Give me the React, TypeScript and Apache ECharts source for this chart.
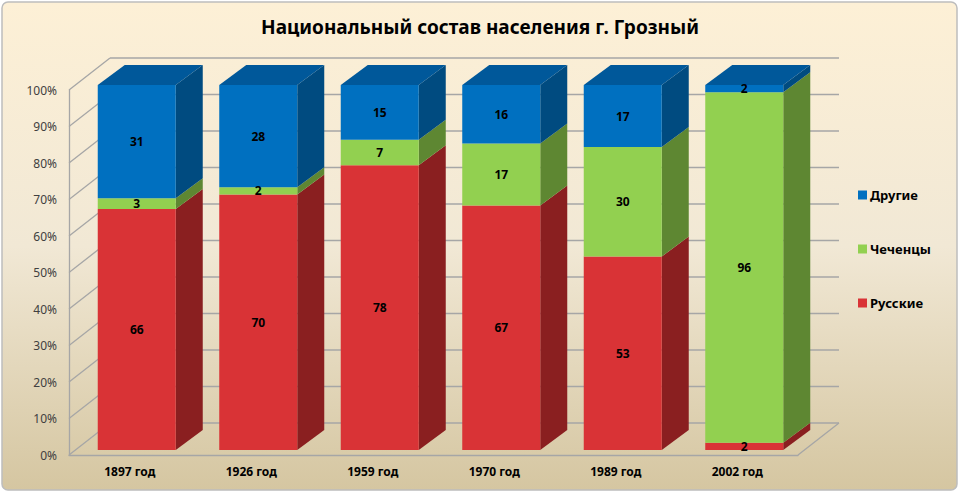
import React, { useEffect, useRef } from "react";
import * as echarts from "echarts";

const categories = ["1897 год", "1926 год", "1959 год", "1970 год", "1989 год", "2002 год"];
const russians = [66, 70, 78, 67, 53, 2];
const chechens = [3, 2, 7, 17, 30, 96];
const others = [31, 28, 15, 16, 17, 2];
const yTicks = [0, 10, 20, 30, 40, 50, 60, 70, 80, 90, 100];
const title = "Национальный состав населения г. Грозный";

const layers = [
  { name: "Русские", values: russians, front: "#D93336", side: "#8A1F20", top: "#A82728" },
  { name: "Чеченцы", values: chechens, front: "#92D050", side: "#5E8732", top: "#76A83E" },
  { name: "Другие", values: others, front: "#0070C0", side: "#004B80", top: "#00589A" },
];

// oblique 3D offsets (pixels)
const FX = 7, FY = -5; // bar front face offset from front plane
const DX = 27, DY = -20; // bar depth
const WX = 41, WY = -32; // back wall offset
const FONT = "'Noto Sans', 'Open Sans', sans-serif";

export default function App() {
  const ref = useRef<HTMLDivElement>(null);
  useEffect(() => {
    document.body.style.margin = "0";
    const chart = echarts.init(ref.current!, null, { renderer: "svg" });

    const bases: number[] = categories.map(() => 0);
    const barSeries = layers.map((layer, li) => {
      const data = layer.values.map((v, i) => {
        const item = [i, v, bases[i]];
        bases[i] += v;
        return item;
      });
      const isTopLayer = li === layers.length - 1;
      return {
        type: "custom",
        name: layer.name,
        itemStyle: { color: layer.front },
        z: 5,
        data,
        renderItem: (params: any, api: any) => {
          const i = api.value(0);
          const val = api.value(1);
          const base = api.value(2);
          const pb = api.coord([i, base]);
          const pt = api.coord([i, base + val]);
          const band = api.size([1, 0])[0];
          const w = band * 0.642;
          const cx = pb[0] + FX;
          const x0 = cx - w / 2;
          const x1 = cx + w / 2;
          const yb = pb[1] + FY;
          const yt = pt[1] + FY;
          const children: any[] = [
            {
              type: "polygon",
              shape: { points: [[x1, yb], [x1, yt], [x1 + DX, yt + DY], [x1 + DX, yb + DY]] },
              style: { fill: layer.side },
            },
            {
              type: "rect",
              shape: { x: x0, y: yt, width: w, height: yb - yt },
              style: { fill: layer.front },
            },
          ];
          if (isTopLayer) {
            children.push({
              type: "polygon",
              shape: { points: [[x0, yt], [x1, yt], [x1 + DX, yt + DY], [x0 + DX, yt + DY]] },
              style: { fill: layer.top },
            });
          }
          children.push({
            type: "text",
            style: {
              x: cx,
              y: (yt + yb) / 2,
              text: String(val),
              align: "center",
              verticalAlign: "middle",
              fill: "#000",
              font: `bold 12px ${FONT}`,
            },
            z2: 10,
          });
          return { type: "group", children };
        },
      };
    });

    const wallSeries = {
      type: "custom",
      name: "walls",
      z: 1,
      silent: true,
      data: yTicks.map((v) => [0, v]),
      renderItem: (params: any, api: any) => {
        const v = api.value(1);
        const p = api.coord([0, v]);
        const band = api.size([1, 0])[0];
        const xL = p[0] - band / 2;
        const xR = xL + band * categories.length;
        const y = p[1];
        const ls = { stroke: "#A6A6A6", lineWidth: 1.3 };
        const children: any[] = [
          { type: "line", shape: { x1: xL, y1: y, x2: xL + WX, y2: y + WY }, style: ls },
          { type: "line", shape: { x1: xL + WX, y1: y + WY, x2: xR + WX, y2: y + WY }, style: ls },
        ];
        if (v === 0) {
          children.push({ type: "line", shape: { x1: xR, y1: y, x2: xR + WX, y2: y + WY }, style: ls });
        }
        return { type: "group", children };
      },
    };

    chart.setOption({
      animation: false,
      backgroundColor: "#FFFFFF",
      textStyle: { fontFamily: FONT },
      graphic: [
        {
          type: "rect",
          z: -10,
          silent: true,
          shape: { x: 2, y: 2, width: 955, height: 488, r: 6 },
          style: {
            fill: new echarts.graphic.LinearGradient(0, 0, 0, 1, [
              { offset: 0, color: "#FDF0D6" },
              { offset: 0.5, color: "#F1E8D5" },
              { offset: 1, color: "#D5C6A1" },
            ]),
            stroke: "#BDBDBD",
            lineWidth: 1.5,
          },
        },
      ],
      title: {
        text: title,
        left: "center",
        top: 12,
        textStyle: { fontFamily: FONT, fontSize: 19, fontWeight: "bold", color: "#000" },
      },
      legend: {
        orient: "vertical",
        left: 853,
        top: 181,
        itemWidth: 9,
        itemHeight: 9,
        itemGap: 36,
        icon: "rect",
        data: ["Другие", "Чеченцы", "Русские"],
        textStyle: { fontFamily: FONT, fontSize: 13, fontWeight: "bold", color: "#000", lineHeight: 18, padding: [0, 0, 0, -2] },
      },
      grid: { left: 69, right: 162, top: 90, bottom: 40, containLabel: false },
      xAxis: {
        type: "category",
        data: categories,
        axisLine: { show: true, lineStyle: { color: "#A6A6A6", width: 1.3 } },
        axisTick: { show: false },
        axisLabel: { fontFamily: FONT, fontSize: 12, fontWeight: "bold", color: "#000", margin: 10 },
      },
      yAxis: {
        type: "value",
        min: 0,
        max: 100,
        interval: 10,
        axisLine: { show: true, lineStyle: { color: "#A6A6A6", width: 1.3 } },
        axisTick: { show: false },
        splitLine: { show: false },
        axisLabel: { formatter: "{value}%", fontFamily: FONT, fontSize: 12, color: "#404040", margin: 12 },
      },
      series: [wallSeries, ...barSeries],
    });
    return () => chart.dispose();
  }, []);
  return <div ref={ref} style={{ position: "fixed", left: 0, top: 0, width: 960, height: 495 }} />;
}
